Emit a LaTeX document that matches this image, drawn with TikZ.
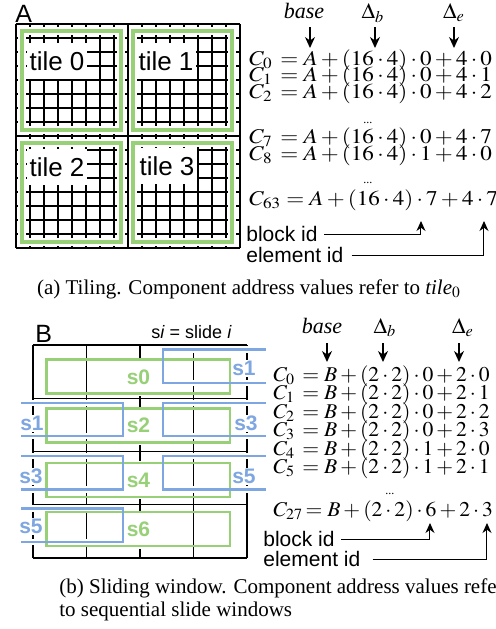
\documentclass[tikz,border=0pt]{standalone}
\usepackage{mathptmx}
\usepackage{fontspec}
\setmainfont{Liberation Serif}
\setsansfont{Liberation Sans}
\usepackage{graphicx}
\usetikzlibrary{arrows.meta}
\definecolor{tilegreen}{HTML}{97D077}
\definecolor{slideblue}{HTML}{7EA6E0}
\newcommand{\eqA}[1]{\scalebox{1.10}[1]{$#1$}}
\newcommand{\eqB}[1]{\scalebox{1.03}[1]{$#1$}}
\tikzset{
	cellline/.style={line width=0.6pt},
	tilehalo/.style={draw=white, line width=3.8pt},
	tileframe/.style={draw=tilegreen, line width=2pt},
	tilelabel/.style={fill=white, inner xsep=1.5pt, inner ysep=0pt, minimum height=18pt, font=\sffamily\fontsize{13}{13}\selectfont},
	paneltitle/.style={inner sep=0pt, font=\sffamily\fontsize{12.5}{12.5}\selectfont},
	eqrow/.style={anchor=base west, inner sep=0pt, font=\fontsize{10.5}{10.5}\selectfont},
	headitem/.style={anchor=base, inner sep=0pt, font=\fontsize{11}{11}\selectfont},
	dotsrow/.style={inner sep=0pt, font=\fontsize{6}{6}\selectfont},
	idlabel/.style={anchor=west, inner sep=0pt, font=\sffamily\fontsize{10.5}{10.5}\selectfont},
	downarrow/.style={-{Stealth[length=5.5pt, width=5pt]}, line width=0.75pt},
	idarrow/.style={-{Stealth[length=5pt, width=4.5pt]}, line width=0.5pt},
	winframe/.style={draw=tilegreen, line width=1.2pt},
	slideframe/.style={draw=slideblue, line width=1.2pt},
	slidehalo/.style={draw=white, line width=3.2pt},
	winlabel/.style={fill=white, text=tilegreen, inner xsep=1pt, inner ysep=0pt, minimum height=19pt, font=\sffamily\bfseries\fontsize{10.5}{10.5}\selectfont},
	slidelabel/.style={fill=white, text=slideblue, inner sep=0.5pt, font=\sffamily\bfseries\fontsize{10.5}{10.5}\selectfont},
	captiontext/.style={inner sep=0pt, font=\fontsize{10.5}{12}\selectfont},
}
\begin{document}
\begin{tikzpicture}[x=0.5pt, y=-0.5pt]
	\useasboundingbox (0,0) rectangle (496,629);

	% (a) tiling
	\node[paneltitle, anchor=south west] (titleA) at (15,23) {A};
	\foreach \k in {0,...,16} {
		\draw[cellline] (16+14*\k,24) -- (16+14*\k,248);
		\draw[cellline] (16,24+14*\k) -- (240,24+14*\k);
	}
	\foreach \x/\y in {22/31, 133/31, 22/143, 133/143} {
		\draw[tilehalo] (\x,\y) rectangle ++(99,99);
		\draw[tileframe] (\x,\y) rectangle ++(99,99);
	}
	\node[tilelabel] (tile0) at (57,61) {tile 0};
	\node[tilelabel] (tile1) at (166,61) {tile 1};
	\node[tilelabel] (tile2) at (57,167) {tile 2};
	\node[tilelabel] (tile3) at (167,166) {tile 3};

	\node[headitem] (baseA) at (304,18.5) {\textit{base}};
	\node[headitem] (dbA) at (373,18.5) {$\Delta_b$};
	\node[headitem] (deA) at (454,18.5) {$\Delta_e$};
	\coordinate (tipbaseA) at (310,48);
	\coordinate (tipdbA) at (375,48);
	\coordinate (tipdeA) at (454,48);
	\draw[downarrow] (tipbaseA |- 0,27) -- (tipbaseA);
	\draw[downarrow] (tipdbA |- 0,27) -- (tipdbA);
	\draw[downarrow] (tipdeA |- 0,27) -- (tipdeA);

	\node[eqrow] (rowA0) at (249,65) {\eqA{C_{0}\, = A + (16\cdot 4)\cdot 0 + 4\cdot 0}};
	\node[eqrow] (rowA1) at (249,81.5) {\eqA{C_{1}\, = A + (16\cdot 4)\cdot 0 + 4\cdot 1}};
	\node[eqrow] (rowA2) at (249,98) {\eqA{C_{2}\, = A + (16\cdot 4)\cdot 0 + 4\cdot 2}};
	\node[dotsrow] (dotsA1) at (368,123) {...};
	\node[eqrow] (rowA7) at (249,143) {\eqA{C_{7}\, = A + (16\cdot 4)\cdot 0 + 4\cdot 7}};
	\node[eqrow] (rowA8) at (249,160) {\eqA{C_{8}\, = A + (16\cdot 4)\cdot 1 + 4\cdot 0}};
	\node[dotsrow] (dotsA2) at (368,183) {...};
	\node[eqrow] (rowA63) at (249,205) {\eqA{C_{63} = A + (16\cdot 4)\cdot 7 + 4\cdot 7}};

	\node[idlabel] (blockA) at (246,234) {block id};
	\node[idlabel] (elemA) at (246,255) {element id};
	\coordinate (tipblockA) at (421,221);
	\coordinate (tipelemA) at (484,221);
	\draw[idarrow] ([xshift=3pt]blockA.east) -| (tipblockA);
	\draw[idarrow] ([xshift=4pt]elemA.east) -| (tipelemA);

	\node[captiontext, anchor=base] (capA) at (249,294) {(a) Tiling. Component address values refer to \textit{tile}$_0$};

	% (b) sliding window
	\node[paneltitle, anchor=south west] (titleB) at (35,343) {B};
	\node[inner sep=0pt, font=\sffamily\fontsize{9}{9}\selectfont] (noteB) at (191.5,332.5) {s\textit{i} = slide \textit{i}};
	\foreach \k in {0,...,4} {
		\draw[cellline] (33+53.5*\k,345) -- (33+53.5*\k,558);
		\draw[cellline] (33,345+53.25*\k) -- (247,345+53.25*\k);
	}
	\foreach \t in {349.3, 402.7, 456} {
		\draw[slidehalo] (266,\t) -| (163.3,\t+33.4) -- (266,\t+33.4);
	}
	\foreach \t in {402.7, 456, 508.3} {
		\draw[slidehalo] (21,\t) -| (123,\t+33.4) -- (21,\t+33.4);
	}
	\node[winlabel] (win0) at (138.5,377) {s0};
	\node[winlabel] (win2) at (138.5,425.5) {s2};
	\node[winlabel] (win4) at (138.5,480) {s4};
	\node[winlabel] (win6) at (138.5,529.5) {s6};
	\node[slidelabel] (slideR1) at (244,368.5) {s1};
	\node[slidelabel] (slideL1) at (32,423.5) {s1};
	\node[slidelabel] (slideR3) at (246,423.5) {s3};
	\node[slidelabel] (slideL3) at (31,476.5) {s3};
	\node[slidelabel] (slideR5) at (244,476.5) {s5};
	\node[slidelabel] (slideL5) at (31,526.5) {s5};
	\foreach \t in {359.5, 408.3, 462.8, 512} {
		\draw[winframe] (46.5,\t) rectangle (230,\t+34);
	}
	\foreach \t in {349.3, 402.7, 456} {
		\draw[slideframe] (266,\t) -| (163.3,\t+33.4) -- (266,\t+33.4);
	}
	\foreach \t in {402.7, 456, 508.3} {
		\draw[slideframe] (21,\t) -| (123,\t+33.4) -- (21,\t+33.4);
	}

	\node[headitem] (baseB) at (322,333) {\textit{base}};
	\node[headitem] (dbB) at (385,333) {$\Delta_b$};
	\node[headitem] (deB) at (463,333) {$\Delta_e$};
	\coordinate (tipbaseB) at (327,362);
	\coordinate (tipdbB) at (383,362);
	\coordinate (tipdeB) at (459,362);
	\draw[downarrow] (tipbaseB |- 0,343) -- (tipbaseB);
	\draw[downarrow] (tipdbB |- 0,343) -- (tipdbB);
	\draw[downarrow] (tipdeB |- 0,343) -- (tipdeB);

	\node[eqrow] (rowB0) at (273,381) {\eqB{C_{0}\, = B + (2\cdot 2)\cdot 0 + 2\cdot 0}};
	\node[eqrow] (rowB1) at (273,399.5) {\eqB{C_{1}\, = B + (2\cdot 2)\cdot 0 + 2\cdot 1}};
	\node[eqrow] (rowB2) at (273,418) {\eqB{C_{2}\, = B + (2\cdot 2)\cdot 0 + 2\cdot 2}};
	\node[eqrow] (rowB3) at (273,436.5) {\eqB{C_{3}\, = B + (2\cdot 2)\cdot 0 + 2\cdot 3}};
	\node[eqrow] (rowB4) at (273,455) {\eqB{C_{4}\, = B + (2\cdot 2)\cdot 1 + 2\cdot 0}};
	\node[eqrow] (rowB5) at (273,473.5) {\eqB{C_{5}\, = B + (2\cdot 2)\cdot 1 + 2\cdot 1}};
	\node[dotsrow] (dotsB) at (390,494) {...};
	\node[eqrow] (rowB27) at (273,516) {\eqB{C_{27}\!= B + (2\cdot 2)\cdot 6 + 2\cdot 3}};

	\node[idlabel] (blockB) at (263,539) {block id};
	\node[idlabel] (elemB) at (263,559) {element id};
	\coordinate (tipblockB) at (430,523);
	\coordinate (tipelemB) at (487,523);
	\draw[idarrow] ([xshift=3pt]blockB.east) -| (tipblockB);
	\draw[idarrow] ([xshift=6pt]elemB.east) -| (tipelemB);

	\node[captiontext, anchor=base west] (capB1) at (59,593) {(b) Sliding window. Component address values refer};
	\node[captiontext, anchor=base west] (capB2) at (59,616) {to sequential slide windows};
\end{tikzpicture}
\end{document}
